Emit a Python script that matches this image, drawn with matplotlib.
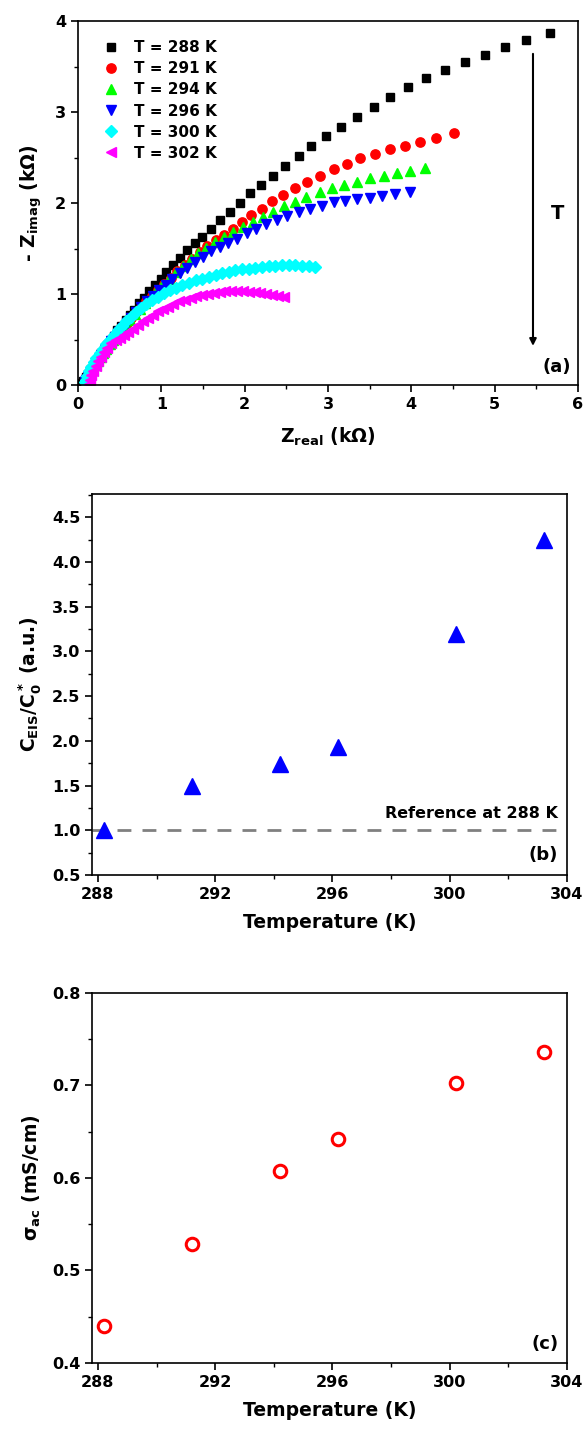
import matplotlib
matplotlib.use("Agg")
import matplotlib.pyplot as plt
from matplotlib.ticker import MultipleLocator

plt.rcParams['font.family'] = ['DejaVu Sans']
plt.rcParams['font.weight'] = 'bold'
plt.rcParams['mathtext.default'] = 'bf'
plt.rcParams['axes.linewidth'] = 1.2

# ---- panel (a): Nyquist data (kOhm) ----
x288 = [5.67, 5.38, 5.13, 4.89, 4.64, 4.41, 4.18, 3.96, 3.75, 3.55, 3.35, 3.16, 2.98, 2.80, 2.65,
        2.48, 2.34, 2.20, 2.06, 1.94, 1.82, 1.70, 1.60, 1.49, 1.40, 1.31, 1.22, 1.14, 1.06, 0.99,
        0.92, 0.85, 0.79, 0.73, 0.67, 0.62, 0.57, 0.52, 0.47, 0.43, 0.39, 0.35, 0.31, 0.28, 0.25,
        0.22, 0.19, 0.16, 0.14, 0.12, 0.10, 0.08, 0.06, 0.05]
y288 = [3.87, 3.79, 3.72, 3.63, 3.55, 3.46, 3.37, 3.27, 3.16, 3.06, 2.95, 2.84, 2.74, 2.63, 2.52,
        2.41, 2.30, 2.20, 2.11, 2.00, 1.90, 1.81, 1.72, 1.63, 1.56, 1.48, 1.40, 1.32, 1.24, 1.17,
        1.10, 1.03, 0.96, 0.90, 0.83, 0.77, 0.71, 0.65, 0.60, 0.54, 0.49, 0.44, 0.39, 0.35, 0.30,
        0.26, 0.22, 0.18, 0.15, 0.12, 0.09, 0.06, 0.04, 0.02]

x291 = [4.51, 4.30, 4.11, 3.93, 3.75, 3.57, 3.39, 3.23, 3.07, 2.91, 2.75, 2.61, 2.46, 2.33, 2.21,
        2.08, 1.97, 1.86, 1.75, 1.66, 1.55, 1.46, 1.37, 1.28, 1.19, 1.11, 1.03, 0.96, 0.89, 0.82,
        0.76, 0.70, 0.64, 0.59, 0.54, 0.49, 0.45, 0.40, 0.36, 0.33, 0.29, 0.26, 0.23, 0.20, 0.17,
        0.15, 0.13, 0.11, 0.09, 0.08]
y291 = [2.77, 2.72, 2.67, 2.63, 2.59, 2.54, 2.49, 2.43, 2.37, 2.30, 2.23, 2.16, 2.09, 2.02, 1.94,
        1.87, 1.79, 1.72, 1.65, 1.59, 1.53, 1.46, 1.39, 1.32, 1.25, 1.18, 1.11, 1.05, 0.98, 0.92,
        0.86, 0.80, 0.74, 0.68, 0.63, 0.58, 0.53, 0.48, 0.43, 0.39, 0.34, 0.30, 0.26, 0.22, 0.18,
        0.15, 0.12, 0.09, 0.06, 0.03]

x294 = [4.17, 3.99, 3.83, 3.67, 3.51, 3.35, 3.19, 3.05, 2.90, 2.74, 2.61, 2.47, 2.34, 2.22, 2.10,
        1.98, 1.86, 1.75, 1.64, 1.54, 1.44, 1.35, 1.26, 1.17, 1.09, 1.01, 0.94, 0.87, 0.80, 0.74,
        0.68, 0.62, 0.57, 0.52, 0.47, 0.42, 0.38, 0.34, 0.30, 0.27, 0.24, 0.21, 0.18, 0.16, 0.14,
        0.13, 0.12]
y294 = [2.39, 2.35, 2.33, 2.30, 2.27, 2.23, 2.20, 2.16, 2.12, 2.07, 2.01, 1.97, 1.90, 1.85, 1.79,
        1.74, 1.68, 1.63, 1.57, 1.51, 1.45, 1.38, 1.31, 1.24, 1.17, 1.10, 1.03, 0.97, 0.90, 0.84,
        0.78, 0.72, 0.66, 0.60, 0.55, 0.50, 0.45, 0.40, 0.35, 0.31, 0.26, 0.22, 0.18, 0.14, 0.10,
        0.06, 0.02]

x296 = [3.98, 3.81, 3.65, 3.50, 3.35, 3.21, 3.07, 2.93, 2.79, 2.65, 2.51, 2.39, 2.26, 2.14, 2.03,
        1.91, 1.80, 1.70, 1.60, 1.50, 1.40, 1.31, 1.22, 1.13, 1.05, 0.97, 0.90, 0.83, 0.76, 0.70,
        0.64, 0.59, 0.54, 0.49, 0.44, 0.40, 0.36, 0.32, 0.28, 0.25, 0.22, 0.19, 0.16, 0.14, 0.12,
        0.10, 0.08]
y296 = [2.12, 2.10, 2.08, 2.06, 2.04, 2.02, 2.01, 1.97, 1.93, 1.90, 1.86, 1.81, 1.77, 1.72, 1.67,
        1.61, 1.56, 1.52, 1.47, 1.41, 1.35, 1.29, 1.23, 1.17, 1.10, 1.04, 0.98, 0.92, 0.86, 0.80,
        0.74, 0.68, 0.63, 0.58, 0.53, 0.48, 0.43, 0.38, 0.33, 0.28, 0.24, 0.20, 0.16, 0.12, 0.09,
        0.06, 0.03]

x300 = [2.85, 2.77, 2.69, 2.61, 2.53, 2.45, 2.37, 2.29, 2.21, 2.13, 2.05, 1.97, 1.89, 1.81, 1.73,
        1.65, 1.57, 1.49, 1.41, 1.33, 1.25, 1.17, 1.10, 1.03, 0.96, 0.89, 0.82, 0.76, 0.70, 0.64,
        0.58, 0.53, 0.48, 0.43, 0.38, 0.34, 0.30, 0.26, 0.22, 0.19, 0.16, 0.13, 0.11, 0.09, 0.08]
y300 = [1.30, 1.31, 1.31, 1.32, 1.32, 1.32, 1.31, 1.31, 1.30, 1.29, 1.28, 1.27, 1.26, 1.24, 1.23,
        1.21, 1.19, 1.17, 1.15, 1.12, 1.10, 1.07, 1.04, 1.01, 0.97, 0.94, 0.89, 0.85, 0.80, 0.75,
        0.70, 0.65, 0.60, 0.55, 0.50, 0.45, 0.40, 0.35, 0.30, 0.25, 0.20, 0.15, 0.10, 0.06, 0.03]

x302 = [2.47, 2.40, 2.33, 2.26, 2.19, 2.12, 2.05, 1.98, 1.91, 1.84, 1.77, 1.70, 1.63, 1.56, 1.49,
        1.42, 1.35, 1.28, 1.21, 1.14, 1.08, 1.02, 0.96, 0.90, 0.84, 0.78, 0.72, 0.66, 0.60, 0.55,
        0.50, 0.45, 0.40, 0.35, 0.31, 0.27, 0.24, 0.21, 0.18, 0.16, 0.14, 0.13]
y302 = [0.97, 0.98, 0.99, 1.00, 1.01, 1.02, 1.02, 1.03, 1.03, 1.03, 1.03, 1.02, 1.01, 1.00, 0.99,
        0.98, 0.96, 0.94, 0.92, 0.89, 0.86, 0.84, 0.81, 0.77, 0.74, 0.70, 0.66, 0.62, 0.58, 0.55,
        0.52, 0.49, 0.46, 0.41, 0.36, 0.31, 0.26, 0.21, 0.16, 0.11, 0.06, 0.01]

# ---- panels (b), (c) ----
temps = [288.2, 291.2, 294.2, 296.2, 300.2, 303.2]
c_ratio = [1.0, 1.49, 1.74, 1.93, 3.19, 4.25]
sigma_ac = [0.440, 0.529, 0.607, 0.642, 0.703, 0.736]

fig = plt.figure(figsize=(5.83, 14.32), dpi=100)

def style(ax):
    ax.tick_params(which='both', direction='out', top=False, right=False, labelsize=11.5)
    ax.tick_params(which='major', length=5, width=1.2)
    ax.tick_params(which='minor', length=3, width=1.0)
    for lab in ax.get_xticklabels() + ax.get_yticklabels():
        lab.set_fontweight('bold')

# (a)
ax1 = fig.add_axes([0.1338, 0.7311, 0.8576, 0.2542])
series = [
    (x288, y288, 's', 'black', 'T = 288 K', 5.8),
    (x291, y291, 'o', 'red', 'T = 291 K', 6.7),
    (x294, y294, '^', '#00ff00', 'T = 294 K', 7),
    (x296, y296, 'v', 'blue', 'T = 296 K', 7),
    (x300, y300, 'D', 'cyan', 'T = 300 K', 6),
    (x302, y302, '<', 'magenta', 'T = 302 K', 7),
]
for xs, ys, m, c, lab, ms in series:
    ax1.plot(xs, ys, linestyle='none', marker=m, color=c, ms=ms, mec=c, label=lab)
ax1.set_xlim(0, 6)
ax1.set_ylim(0, 4)
ax1.xaxis.set_major_locator(MultipleLocator(1))
ax1.xaxis.set_minor_locator(MultipleLocator(0.5))
ax1.yaxis.set_major_locator(MultipleLocator(1))
ax1.yaxis.set_minor_locator(MultipleLocator(0.5))
style(ax1)
ax1.set_xlabel('Z$_{real}$ (k$\\Omega$)', fontsize=13.5, fontweight='bold', labelpad=10)
ax1.set_ylabel('- Z$_{imag}$ (k$\\Omega$)', fontsize=13.5, fontweight='bold', labelpad=8)
leg = ax1.legend(loc='upper left', bbox_to_anchor=(0.02, 0.985), frameon=False,
                 prop={'size': 11, 'weight': 'bold'}, handletextpad=0.9,
                 labelspacing=0.4, handlelength=1.2)
ax1.annotate('', xy=(5.46, 0.40), xytext=(5.46, 3.67),
             arrowprops=dict(arrowstyle='-|>', color='black', lw=1.5, mutation_scale=10))
ax1.text(5.75, 1.89, 'T', fontsize=14, fontweight='bold', ha='center', va='center')
ax1.text(5.92, 0.2, '(a)', fontsize=13, fontweight='bold', ha='right', va='center')

# (b)
ax2 = fig.add_axes([0.1578, 0.3890, 0.8148, 0.2660])
ax2.axhline(1.0, color='#808080', ls=(0, (5, 4)), lw=2)
ax2.plot(temps, c_ratio, linestyle='none', marker='^', color='blue', ms=11)
ax2.set_xlim(287.8, 304)
ax2.set_ylim(0.5, 4.76)
ax2.xaxis.set_major_locator(MultipleLocator(4))
ax2.xaxis.set_minor_locator(MultipleLocator(2))
ax2.yaxis.set_major_locator(MultipleLocator(0.5))
ax2.yaxis.set_minor_locator(MultipleLocator(0.25))
ax2.yaxis.set_major_formatter(plt.FormatStrFormatter('%.1f'))
style(ax2)
ax2.text(303.7, 1.1, 'Reference at 288 K', fontsize=11.5, fontweight='bold', ha='right', va='bottom')
ax2.text(303.7, 0.72, '(b)', fontsize=13, fontweight='bold', ha='right', va='center')
ax2.set_xlabel('Temperature (K)', fontsize=13.5, fontweight='bold', labelpad=8)
ax2.set_ylabel('C$_{EIS}$/C$_0^*$ (a.u.)', fontsize=13.5, fontweight='bold', labelpad=6)

# (c)
ax3 = fig.add_axes([0.1578, 0.0482, 0.8148, 0.2584])
ax3.plot(temps, sigma_ac, linestyle='none', marker='o', mfc='none', mec='red', mew=2.2, ms=9)
ax3.set_xlim(287.8, 304)
ax3.set_ylim(0.4, 0.8)
ax3.xaxis.set_major_locator(MultipleLocator(4))
ax3.xaxis.set_minor_locator(MultipleLocator(2))
ax3.yaxis.set_major_locator(MultipleLocator(0.1))
ax3.yaxis.set_minor_locator(MultipleLocator(0.05))
style(ax3)
ax3.text(303.7, 0.42, '(c)', fontsize=13, fontweight='bold', ha='right', va='center')
ax3.set_xlabel('Temperature (K)', fontsize=13.5, fontweight='bold', labelpad=8)
ax3.set_ylabel('$\\sigma_{ac}$ (mS/cm)', fontsize=13.5, fontweight='bold', labelpad=6)

fig.savefig('out.png', dpi=100)
